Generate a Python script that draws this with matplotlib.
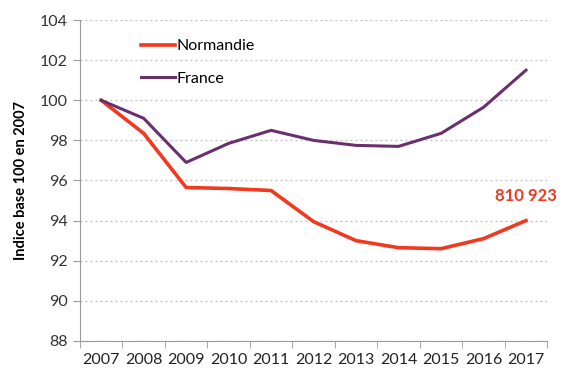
import matplotlib
matplotlib.use("Agg")
import matplotlib.pyplot as plt
from matplotlib.ticker import FixedLocator

plt.rcParams['font.family'] = ['Lato', 'DejaVu Sans']

years = ['2007', '2008', '2009', '2010', '2011', '2012', '2013', '2014', '2015', '2016', '2017']
normandie = [100, 98.35, 95.65, 95.6, 95.5, 93.95, 93.0, 92.65, 92.6, 93.1, 94.0]
france = [100, 99.1, 96.9, 97.85, 98.5, 98.0, 97.75, 97.7, 98.35, 99.65, 101.5]
last_label = '810 923'

fig = plt.figure(figsize=(5.63, 3.71), dpi=100)
ax = fig.add_axes([0.142, 0.081, 0.83, 0.865])

x = range(len(years))
ax.plot(x, normandie, color='#f0391e', lw=2.6, label='Normandie')
ax.plot(x, france, color='#6b2f6e', lw=2.2, label='France')

ax.set_xlim(-0.5, len(years) - 0.5)
ax.set_ylim(88, 104)
ax.set_yticks(range(88, 105, 2))
ax.set_xticks(list(x))
ax.set_xticklabels(years)
ax.xaxis.set_minor_locator(FixedLocator([i - 0.5 for i in range(len(years) + 1)]))
ax.tick_params(axis='x', which='major', length=0, labelsize=11.5, pad=9, colors='#222222')
ax.tick_params(axis='x', which='minor', length=5, color='#999999', direction='out')
ax.tick_params(axis='y', length=5, color='#999999', labelsize=11.5, pad=4)
ax.tick_params(axis='y', colors='#999999', labelcolor='#333333')

ax.grid(axis='y', linestyle=(0, (1.5, 2.5)), color='#bbbbbb', lw=0.9)
for s in ['top', 'right']:
    ax.spines[s].set_visible(False)
for s in ['left', 'bottom']:
    ax.spines[s].set_color('#999999')

ax.set_ylabel('Indice base 100 en 2007', fontsize=10.5, fontweight='bold', labelpad=8)

ax.text(len(years) - 1, normandie[-1] + 1.25, last_label, color='#f0391e',
        fontsize=12, fontweight='bold', ha='center', va='center')

ax.legend(loc='upper left', bbox_to_anchor=(0.1, 0.985), frameon=False, fontsize=11.5,
          handlelength=2.1, handletextpad=0.1, labelspacing=1.15)

fig.savefig('out.png', dpi=100)
